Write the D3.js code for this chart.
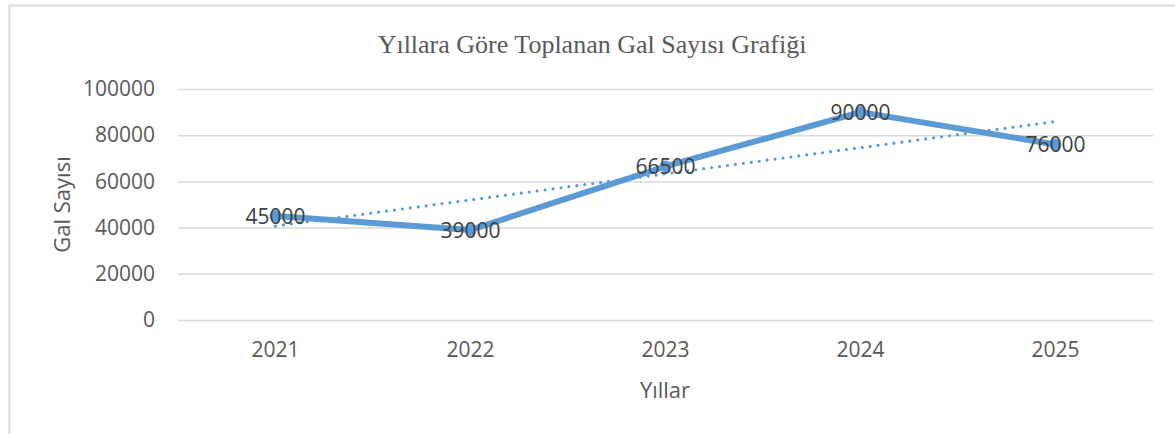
<!DOCTYPE html>
<html><head><meta charset="utf-8">
<script src="https://cdn.jsdelivr.net/npm/d3@7"></script>
<style>body{margin:0;background:#fff}svg{display:block}</style>
</head><body>
<script>
const categories = ["2021","2022","2023","2024","2025"];
const values = [45000, 39000, 66500, 90000, 76000];
const yTicks = [0, 20000, 40000, 60000, 80000, 100000];
const title = "Yıllara Göre Toplanan Gal Sayısı Grafiği";
const xTitle = "Yıllar";
const yTitle = "Gal Sayısı";

(function () {
const W = 1175, H = 434;
const svg = d3.select("body").append("svg").attr("width", W).attr("height", H);
svg.append("rect").attr("x", 9.5).attr("y", 5.5).attr("width", W + 20).attr("height", H + 20)
  .attr("fill", "#fff").attr("stroke", "#d9d9d9").attr("stroke-width", 2);

const pL = 178, pR = 1153, pT = 89, pB = 320;
const x = d3.scaleBand().domain(categories).range([pL, pR]);
const y = d3.scaleLinear().domain([0, 100000]).range([pB, pT]);
const cx = d => x(d) + x.bandwidth() / 2;

const font = "'Open Sans', sans-serif";

// gridlines
const gy = svg.append("g").attr("transform", `translate(${pL},0)`)
  .call(d3.axisLeft(y).tickValues(yTicks).tickSize(-(pR - pL)).tickPadding(23).tickFormat(d3.format("d")));
gy.select(".domain").remove();
gy.selectAll("line").attr("stroke", "#d9d9d9").attr("stroke-width", 1.5);
gy.selectAll("text").attr("font-family", font).attr("font-size", 21).attr("fill", "#595959");

const gx = svg.append("g").attr("transform", `translate(0,${pB})`)
  .call(d3.axisBottom(x).tickSize(0).tickPadding(22));
gx.select(".domain").remove();
gx.selectAll("text").attr("font-family", font).attr("font-size", 21).attr("fill", "#595959");

// titles
svg.append("text").attr("x", 592).attr("y", 53).attr("text-anchor", "middle")
  .attr("font-family", "'Liberation Serif', 'Times New Roman', serif").attr("font-size", 26)
  .attr("fill", "#595959").text(title);
svg.append("text").attr("x", 665).attr("y", 398).attr("text-anchor", "middle")
  .attr("font-family", font).attr("font-size", 22).attr("fill", "#595959").text(xTitle);
svg.append("text").attr("transform", `translate(70,${(pT + pB) / 2}) rotate(-90)`).attr("text-anchor", "middle")
  .attr("font-family", font).attr("font-size", 22).attr("fill", "#595959").text(yTitle);

const data = categories.map((c, i) => ({c, v: values[i], i: i + 1}));

// linear trendline (least squares)
const n = data.length;
const mx = d3.mean(data, d => d.i), my = d3.mean(data, d => d.v);
const slope = d3.sum(data, d => (d.i - mx) * (d.v - my)) / d3.sum(data, d => (d.i - mx) ** 2);
const icpt = my - slope * mx;
const xi = d3.scaleLinear().domain([1, n]).range([cx(categories[0]), cx(categories[n - 1])]);
svg.append("line")
  .attr("x1", xi(1)).attr("y1", y(icpt + slope * 1))
  .attr("x2", xi(n)).attr("y2", y(icpt + slope * n))
  .attr("stroke", "#5B9BD5").attr("stroke-width", 3.2).attr("stroke-linecap", "round")
  .attr("stroke-dasharray", "0 8");

// line
svg.append("path").datum(data)
  .attr("d", d3.line().x(d => cx(d.c)).y(d => y(d.v)))
  .attr("fill", "none").attr("stroke", "#5B9BD5").attr("stroke-width", 6).attr("stroke-linejoin", "round");
svg.selectAll("circle.m").data(data).join("circle").attr("class", "m")
  .attr("cx", d => cx(d.c)).attr("cy", d => y(d.v)).attr("r", 6).attr("fill", "#5B9BD5");

// labels
svg.selectAll("text.lbl").data(data).join("text").attr("class", "lbl")
  .attr("x", d => cx(d.c)).attr("y", d => y(d.v)).attr("dy", "0.38em").attr("text-anchor", "middle")
  .attr("font-family", font).attr("font-size", 21).attr("fill", "#404040")
  .text(d => d.v);
})();
</script>
</body></html>
